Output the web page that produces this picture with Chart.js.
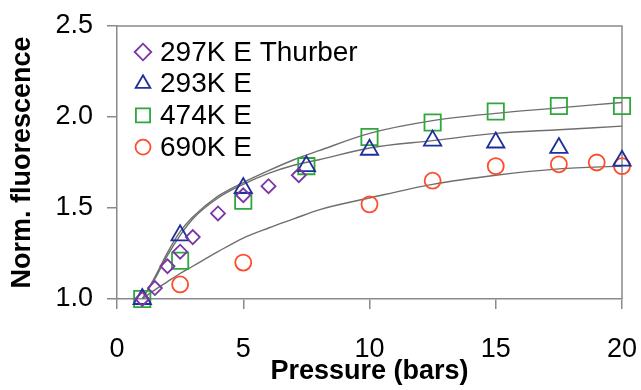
<!DOCTYPE html>
<html>
<head>
<meta charset="utf-8">
<script src="https://cdn.jsdelivr.net/npm/chart.js@4/dist/chart.umd.min.js"></script>
<style>
    html, body { margin: 0; padding: 0; background: #fff; }
    #caixa { width: 641px; height: 390px; position: relative; }
</style>
</head>
<body>
<div id="caixa"><canvas id="graficoFluorescencia"></canvas></div>
<script>

// dados medidos (pressão em bar, fluorescência normalizada)
const pressao297 = [1, 1.5, 2, 2.5, 3, 4, 5, 6, 7.2];
const fluor297 = [1.0, 1.06, 1.18, 1.26, 1.34, 1.47, 1.57, 1.62, 1.68];

const pressao293 = [1, 2.5, 5, 7.5, 10, 12.5, 15, 17.5, 20];
const fluor293 = [1.0, 1.35, 1.61, 1.73, 1.82, 1.87, 1.86, 1.83, 1.76];

const pressao474 = [1, 2.5, 5, 7.5, 10, 12.5, 15, 17.5, 20];
const fluor474 = [1.0, 1.21, 1.54, 1.73, 1.89, 1.97, 2.03, 2.06, 2.06];

const pressao690 = [2.5, 5, 10, 12.5, 15, 17.5, 19, 20];
const fluor690 = [1.08, 1.20, 1.52, 1.65, 1.73, 1.74, 1.75, 1.73];

// curvas de ajuste
const pressaoAjuste = [1, 1.5, 2, 2.5, 3, 4, 5, 6, 7, 8, 10, 12.5, 15, 17.5, 20];
const ajusteSuperior = [1.0, 1.12, 1.255, 1.37, 1.45, 1.565, 1.64, 1.705, 1.765, 1.815, 1.91, 1.98, 2.02, 2.05, 2.08];
const ajusteMedio = [1.0, 1.11, 1.24, 1.35, 1.44, 1.555, 1.63, 1.69, 1.735, 1.765, 1.83, 1.87, 1.91, 1.93, 1.95];
const ajusteInferior = [1.0, 1.05, 1.095, 1.14, 1.18, 1.26, 1.335, 1.39, 1.44, 1.49, 1.555, 1.63, 1.68, 1.715, 1.73];

const ticksX = [0, 5, 10, 15, 20];
const ticksY = [1.0, 1.5, 2.0, 2.5];

const fonte = '"Liberation Sans", Arial, sans-serif';

function pares(xs, ys) {
    return xs.map((x, i) => ({ x: x, y: ys[i] }));
}

// moldura cinza em volta da área do gráfico
const moldura = {
    id: 'moldura',
    beforeDatasetsDraw(chart) {
        const { ctx, chartArea } = chart;
        ctx.save();
        ctx.strokeStyle = '#8a8a8a';
        ctx.lineWidth = 1.5;
        ctx.beginPath();
        ctx.moveTo(chartArea.left, chartArea.top);
        ctx.lineTo(chartArea.right, chartArea.top);
        ctx.lineTo(chartArea.right, chartArea.bottom);
        ctx.stroke();
        ctx.restore();
    }
};

// legenda dentro da área, no canto superior esquerdo
const legendaInterna = {
    id: 'legendaInterna',
    afterDatasetsDraw(chart) {
        const { ctx, chartArea } = chart;
        ctx.save();
        ctx.font = '28px ' + fonte;
        ctx.textBaseline = 'middle';
        ctx.textAlign = 'left';
        let linha = 0;
        chart.data.datasets.forEach((ds) => {
            if (!ds.raioLegenda) return;
            const y = chartArea.top + 26 + linha * 31.7;
            const x = chartArea.left + 26;
            ctx.strokeStyle = ds.borderColor;
            ctx.fillStyle = 'rgba(0,0,0,0)';
            ctx.lineWidth = 1.8;
            Chart.helpers.drawPoint(ctx, {
                pointStyle: ds.pointStyle,
                radius: ds.raioLegenda,
                rotation: 0,
                borderWidth: 1.8
            }, x, y);
            ctx.fillStyle = '#000';
            ctx.fillText(ds.label, chartArea.left + 43, y + 1);
            linha++;
        });
        ctx.restore();
    }
};

function serieMarcadores(rotulo, xs, ys, cor, estilo, raio, raioLegenda) {
    return {
        type: 'scatter',
        label: rotulo,
        data: pares(xs, ys),
        showLine: false,
        pointStyle: estilo,
        pointRadius: raio,
        pointHoverRadius: raio,
        pointBorderWidth: 1.8,
        borderColor: cor,
        pointBorderColor: cor,
        pointBackgroundColor: 'rgba(0,0,0,0)',
        backgroundColor: 'rgba(0,0,0,0)',
        raioLegenda: raioLegenda,
        clip: false
    };
}

function serieAjuste(ys) {
    return {
        type: 'line',
        label: '',
        data: pares(pressaoAjuste, ys),
        borderColor: '#6e6e6e',
        borderWidth: 1.4,
        pointRadius: 0,
        cubicInterpolationMode: 'monotone',
        fill: false
    };
}

const ctx = document.getElementById('graficoFluorescencia').getContext('2d');

new Chart(ctx, {
    data: {
        datasets: [
            serieMarcadores('297K E Thurber', pressao297, fluor297, '#7a35a6', 'rectRot', 7, 8.3),
            serieMarcadores('293K E', pressao293, fluor293, '#1f2f9c', 'triangle', 10, 8.5),
            serieMarcadores('474K E', pressao474, fluor474, '#2ea83c', 'rect', 11.5, 10),
            serieMarcadores('690K E', pressao690, fluor690, '#ff4b2b', 'circle', 8, 7.5),
            serieAjuste(ajusteSuperior),
            serieAjuste(ajusteMedio),
            serieAjuste(ajusteInferior)
        ]
    },
    options: {
        responsive: true,
        maintainAspectRatio: false,
        animation: false,
        layout: {
            padding: { top: 26, right: 19, left: 0, bottom: 0 }
        },
        plugins: {
            legend: { display: false },
            tooltip: { enabled: false }
        },
        scales: {
            x: {
                type: 'linear',
                min: 0,
                max: 20,
                afterBuildTicks: (s) => { s.ticks = ticksX.map(v => ({ value: v })); },
                afterFit: (s) => {
                    s.height = 91;
                    s.paddingLeft = 0;
                    s.paddingRight = 0;
                },
                grid: {
                    drawOnChartArea: false,
                    tickLength: 10,
                    color: '#8a8a8a',
                    lineWidth: 1.5
                },
                border: { color: '#8a8a8a', width: 1.5 },
                ticks: {
                    color: '#000',
                    padding: 24,
                    font: { family: fonte, size: 27 },
                    maxRotation: 0
                },
                title: {
                    display: true,
                    text: 'Pressure (bars)',
                    color: '#000',
                    font: { family: fonte, size: 27, weight: 'bold' },
                    padding: { top: 0, bottom: 2 }
                }
            },
            y: {
                type: 'linear',
                min: 1,
                max: 2.5,
                afterBuildTicks: (s) => { s.ticks = ticksY.map(v => ({ value: v })); },
                afterFit: (s) => {
                    s.width = 117;
                    s.paddingTop = 0;
                    s.paddingBottom = 0;
                },
                grid: {
                    drawOnChartArea: false,
                    tickLength: 10,
                    color: '#8a8a8a',
                    lineWidth: 1.5
                },
                border: { color: '#8a8a8a', width: 1.5 },
                ticks: {
                    color: '#000',
                    padding: 14,
                    font: { family: fonte, size: 27 },
                    callback: (v) => Number(v).toFixed(1)
                },
                title: {
                    display: true,
                    text: 'Norm. fluorescence',
                    color: '#000',
                    font: { family: fonte, size: 27, weight: 'bold' },
                    padding: { top: 6, bottom: 0 }
                }
            }
        }
    },
    plugins: [moldura, legendaInterna]
});
</script>
</body>
</html>
